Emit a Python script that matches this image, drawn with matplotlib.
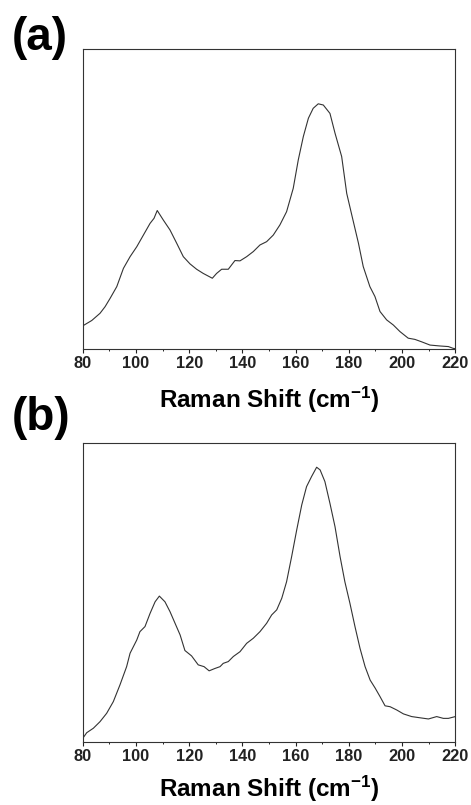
import matplotlib.pyplot as plt
from matplotlib.ticker import MultipleLocator

plt.rcParams['font.family'] = ['Liberation Sans', 'DejaVu Sans']
plt.rcParams['mathtext.fontset'] = 'custom'
plt.rcParams['mathtext.rm'] = 'Liberation Sans:bold'
plt.rcParams['mathtext.default'] = 'rm'

# panel (a) spectrum, intensity in arbitrary units
shift_a = [80.0, 83.4, 86.5, 88.4, 90.3, 92.8, 95.3, 97.8, 100.3, 102.8, 105.3, 106.8,
           108.0, 110.3, 112.8, 115.3, 117.8, 120.3, 122.8, 125.3, 128.7, 130.3, 132.2,
           134.7, 137.2, 139.1, 141.6, 144.1, 146.6, 149.1, 151.6, 154.1, 156.6, 159.1,
           161.0, 162.9, 164.8, 166.6, 168.5, 170.4, 172.9, 174.8, 177.3, 179.2, 181.1,
           183.6, 185.4, 187.9, 189.8, 191.7, 194.2, 196.7, 199.2, 202.3, 204.8, 207.3,
           210.5, 214.2, 217.4, 219.2, 220.0]
int_a = [0.077, 0.095, 0.119, 0.141, 0.169, 0.208, 0.269, 0.308, 0.341, 0.380, 0.419, 0.436,
         0.462, 0.430, 0.397, 0.353, 0.308, 0.284, 0.266, 0.252, 0.236, 0.252, 0.266,
         0.266, 0.295, 0.294, 0.308, 0.325, 0.347, 0.358, 0.380, 0.414, 0.458, 0.536,
         0.631, 0.709, 0.770, 0.803, 0.818, 0.814, 0.786, 0.720, 0.642, 0.519, 0.447,
         0.353, 0.275, 0.208, 0.175, 0.125, 0.097, 0.080, 0.058, 0.036, 0.032, 0.024,
         0.013, 0.010, 0.008, 0.002, 0.001]

# panel (b) spectrum
shift_b = [80.0, 81.5, 84.0, 86.5, 89.0, 91.5, 94.0, 96.5, 97.8, 100.3, 101.5, 103.4,
           105.3, 107.2, 108.8, 110.9, 112.8, 114.7, 116.6, 118.4, 120.9, 123.4, 125.6,
           127.5, 129.7, 131.6, 132.8, 134.7, 136.6, 139.1, 141.6, 144.1, 146.6, 149.1,
           151.0, 152.9, 154.8, 156.6, 158.5, 160.4, 162.3, 164.1, 166.0, 167.9, 169.2,
           171.0, 172.9, 174.8, 176.7, 178.5, 180.4, 182.3, 184.2, 186.1, 188.0, 189.9,
           191.7, 193.6, 195.5, 198.0, 200.5, 203.6, 206.7, 209.9, 213.0, 215.5, 217.4, 220.0]
int_b = [0.013, 0.032, 0.047, 0.069, 0.097, 0.136, 0.192, 0.253, 0.298, 0.342, 0.370, 0.387,
         0.431, 0.470, 0.489, 0.470, 0.437, 0.398, 0.359, 0.307, 0.289, 0.259, 0.253,
         0.239, 0.247, 0.253, 0.264, 0.270, 0.287, 0.303, 0.331, 0.348, 0.370, 0.398,
         0.426, 0.443, 0.482, 0.537, 0.621, 0.710, 0.794, 0.855, 0.889, 0.920, 0.911,
         0.872, 0.799, 0.721, 0.621, 0.537, 0.465, 0.387, 0.314, 0.253, 0.208, 0.181,
         0.153, 0.122, 0.119, 0.108, 0.095, 0.086, 0.082, 0.078, 0.086, 0.080, 0.080, 0.086]

panels = [('(a)', shift_a, int_a), ('(b)', shift_b, int_b)]

fig = plt.figure(figsize=(4.71, 8.05), dpi=100)
rects = [[0.1756, 0.5665, 0.7911, 0.3723], [0.1756, 0.0779, 0.7911, 0.3714]]
tag_y = [0.9375, 0.4658]
xlabel_y = [-0.197, -0.183]

for (tag, x, y), rect, ty, ly in zip(panels, rects, tag_y, xlabel_y):
    ax = fig.add_axes(rect)
    ax.plot(x, y, color='#333333', lw=0.8)
    ax.set_xlim(80, 220)
    ax.set_ylim(0, 1)
    ax.set_yticks([])
    ax.xaxis.set_major_locator(MultipleLocator(20))
    ax.xaxis.set_minor_locator(MultipleLocator(10))
    ax.tick_params(axis='x', which='major', direction='out', length=3, width=0.8,
                   pad=2, labelsize=11.8, colors='#222222')
    ax.tick_params(axis='x', which='minor', direction='out', length=1.5, width=0.6)
    for lab in ax.get_xticklabels():
        lab.set_fontweight('bold')
    for s in ax.spines.values():
        s.set_linewidth(0.8)
        s.set_color('#333333')
    ax.set_xlabel('Raman Shift (cm$^{-1}$)', fontsize=17.5, fontweight='bold')
    ax.xaxis.label.set_verticalalignment('baseline')
    ax.xaxis.set_label_coords(0.5, ly)
    fig.text(0.025, ty, tag, fontsize=33, fontweight='bold', va='baseline', ha='left')

fig.savefig('out.png', dpi=100)
